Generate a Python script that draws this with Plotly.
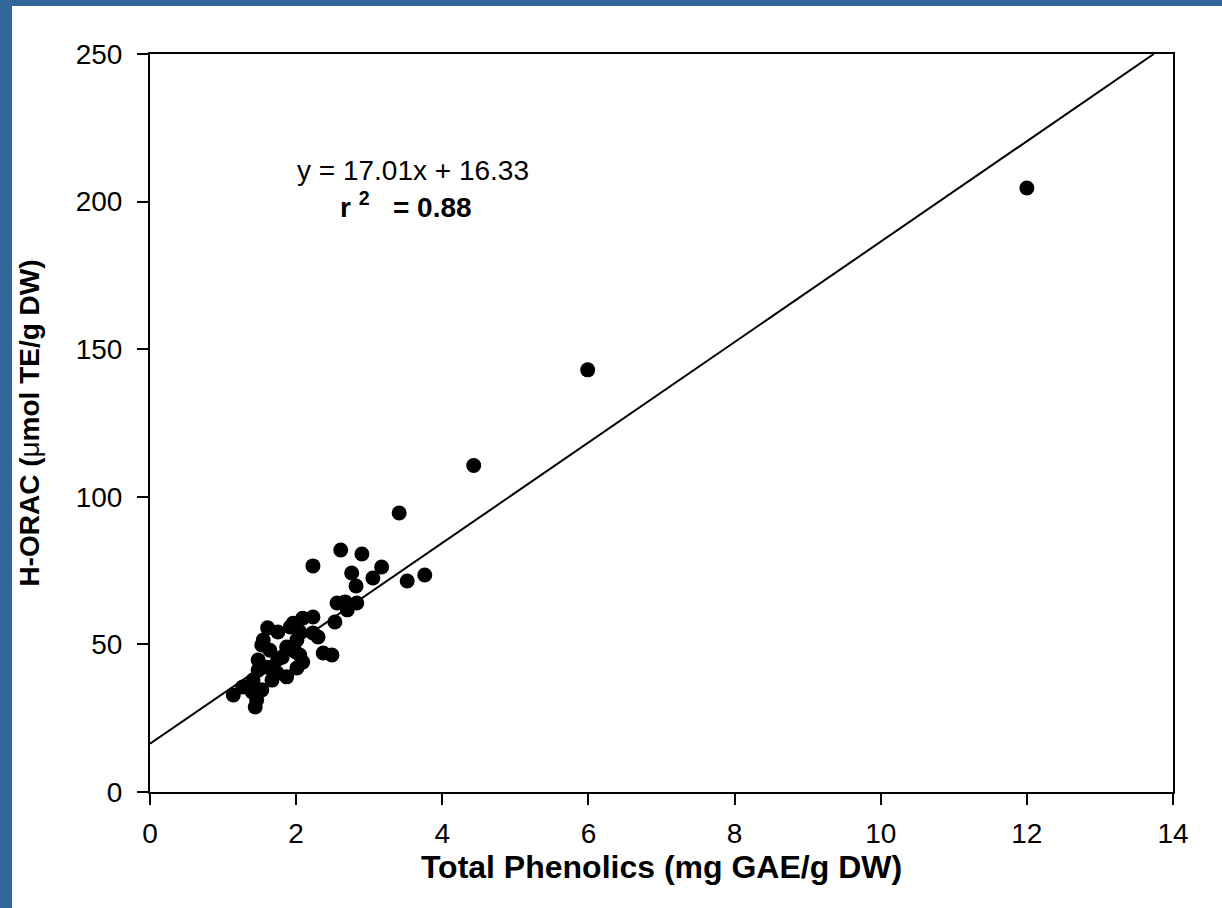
import plotly.graph_objects as go

# Total phenolics (mg GAE/g DW) and hydrophilic ORAC (umol TE/g DW) per sample
phenolics = [
    12.0, 5.99, 4.43, 3.41, 3.76, 3.52, 3.17, 3.05, 2.90, 2.61,
    2.23, 2.76, 2.82, 2.56, 2.67, 2.83, 2.70, 2.53, 2.23, 2.09,
    1.96, 2.23, 2.30, 2.37, 2.49, 1.61, 1.75, 1.55, 1.53, 1.92,
    2.05, 2.01, 1.87, 1.81, 2.05, 2.09, 1.48, 1.60, 1.48, 1.74,
    1.87, 2.01, 1.41, 1.67, 1.27, 1.14, 1.40, 1.53, 1.46, 1.44,
    1.75, 1.99, 1.64,
]
h_orac = [
    204.6, 143.0, 110.6, 94.5, 73.5, 71.5, 76.2, 72.5, 80.6, 82.0,
    76.6, 74.2, 69.8, 64.0, 64.4, 64.0, 61.7, 57.6, 59.3, 58.9,
    57.2, 53.9, 52.5, 47.1, 46.4, 55.6, 54.2, 51.5, 49.8, 55.9,
    54.2, 51.5, 49.1, 45.7, 46.4, 44.0, 44.7, 42.3, 41.3, 40.3,
    39.0, 42.0, 37.9, 37.9, 35.6, 32.9, 33.9, 34.6, 31.2, 28.8,
    45.0, 47.5, 48.0,
]

# Linear regression reported for the data set
slope = 17.01
intercept = 16.33
r_squared = 0.88

x_ticks = [0, 2, 4, 6, 8, 10, 12, 14]
y_ticks = [0, 50, 100, 150, 200, 250]
x_max = 14
y_max = 250

FONT = "Liberation Sans, Arial, sans-serif"
FRAME_BLUE = "#336699"

fig = go.Figure()

# Fitted line drawn from the regression, clipped at the top of the y range
x_end = (y_max - intercept) / slope
fig.add_trace(go.Scatter(
    x=[0, x_end],
    y=[intercept, slope * x_end + intercept],
    mode="lines",
    line=dict(color="black", width=2),
    hoverinfo="skip",
    showlegend=False,
))

fig.add_trace(go.Scatter(
    x=phenolics,
    y=h_orac,
    mode="markers",
    marker=dict(color="black", size=15, line=dict(width=0)),
    showlegend=False,
))

axis_common = dict(
    showline=True,
    linecolor="black",
    linewidth=2,
    mirror=True,
    ticks="outside",
    ticklen=11,
    tickwidth=2,
    tickcolor="black",
    showgrid=False,
    zeroline=False,
    tickfont=dict(family=FONT, size=28, color="black"),
)

fig.update_xaxes(
    range=[0, x_max],
    tickvals=x_ticks,
    ticklabelstandoff=4,
    title=dict(
        text="<b>Total Phenolics (mg GAE/g DW)</b>",
        font=dict(family=FONT, size=32, color="black"),
        standoff=0,
    ),
    **axis_common,
)
fig.update_yaxes(
    range=[0, y_max],
    tickvals=y_ticks,
    ticklabelstandoff=9,
    title=dict(
        text="<b>H-ORAC (</b>\u03bc<b>mol TE/g DW)</b>",
        font=dict(family=FONT, size=28, color="black"),
        standoff=28,
    ),
    **axis_common,
)

fig.add_annotation(
    x=3.6, y=210.5, xref="x", yref="y",
    text=f"y = {slope:.2f}x + {intercept:.2f}",
    showarrow=False,
    font=dict(family=FONT, size=28, color="black"),
)
fig.add_annotation(
    x=3.5, y=199.0, xref="x", yref="y",
    text=f"<b>r\u00a0<sup>2</sup>\u00a0\u00a0\u00a0= {r_squared:.2f}</b>",
    showarrow=False,
    font=dict(family=FONT, size=28, color="black"),
)

# Blue slide frame along the left and top edges
W, H = 1222, 908
ml, mr, mt, mb = 150, 49, 54, 116
pw, ph = W - ml - mr, H - mt - mb


def px_to_paper_x(px):
    return (px - ml) / pw


def px_to_paper_y(py):
    return (H - mb - py) / ph


fig.add_shape(type="rect", xref="paper", yref="paper",
              x0=px_to_paper_x(0), x1=px_to_paper_x(12),
              y0=px_to_paper_y(H), y1=px_to_paper_y(0),
              fillcolor=FRAME_BLUE, line=dict(width=0), layer="above")
fig.add_shape(type="rect", xref="paper", yref="paper",
              x0=px_to_paper_x(0), x1=px_to_paper_x(W),
              y0=px_to_paper_y(6), y1=px_to_paper_y(0),
              fillcolor=FRAME_BLUE, line=dict(width=0), layer="above")

fig.update_layout(
    width=W,
    height=H,
    margin=dict(l=ml, r=mr, t=mt, b=mb, autoexpand=False),
    paper_bgcolor="white",
    plot_bgcolor="white",
    font=dict(family=FONT, color="black"),
    showlegend=False,
)

fig.write_html("out.html")
